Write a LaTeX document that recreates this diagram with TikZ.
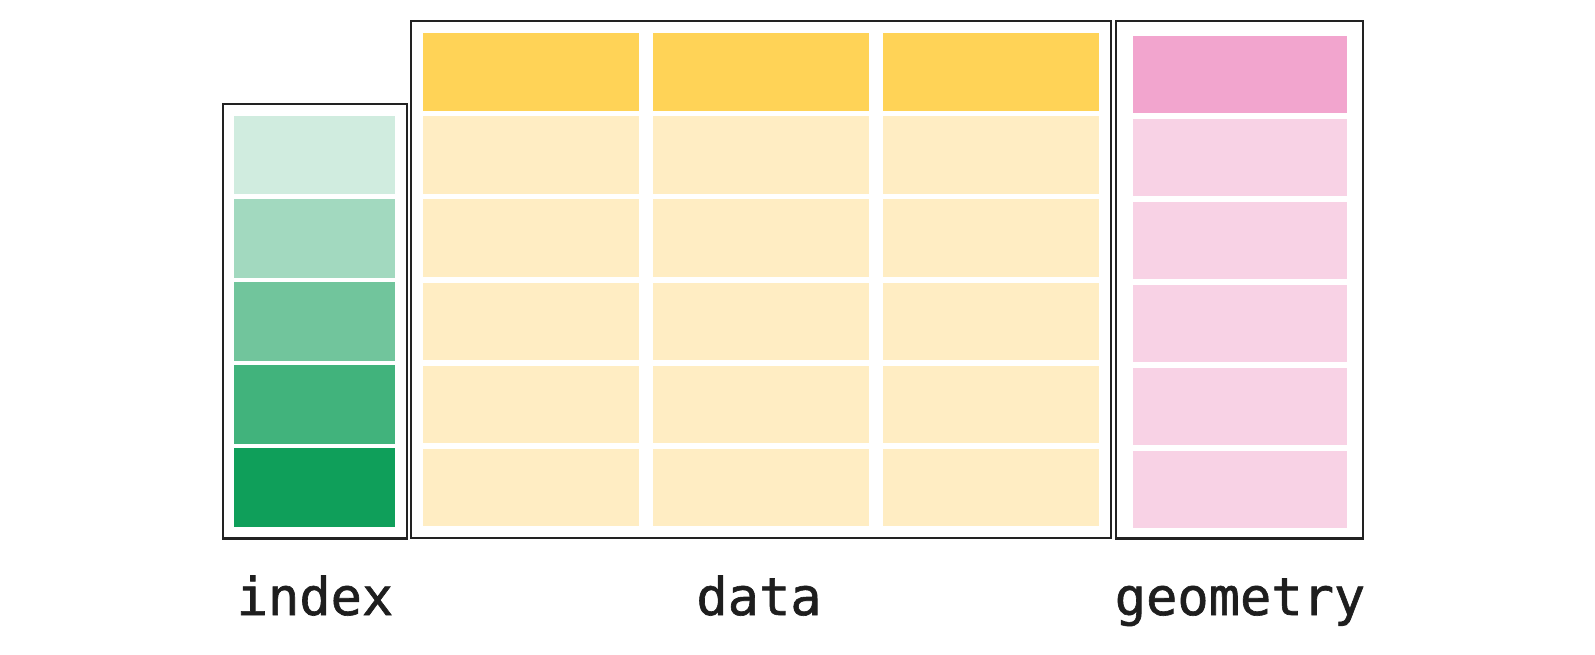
\documentclass[tikz,border=0pt]{standalone}
\usepackage{fontspec}
\newfontfamily\labelfont[BoldFont={DejaVu Sans Mono}, BoldFeatures={FakeBold=1.2}]{DejaVu Sans Mono}
\definecolor{boxline}{HTML}{222222}
\definecolor{txt}{HTML}{1E1E1E}
\definecolor{gA}{HTML}{D0ECDF}
\definecolor{gB}{HTML}{A2D9BF}
\definecolor{gC}{HTML}{71C59C}
\definecolor{gD}{HTML}{41B37C}
\definecolor{gE}{HTML}{0F9F5A}
\definecolor{yhead}{HTML}{FFD357}
\definecolor{ycell}{HTML}{FFEDC3}
\definecolor{phead}{HTML}{F2A5CE}
\definecolor{pcell}{HTML}{F8D2E5}
\tikzset{
  frame/.style={draw=boxline, line width=2.3pt, rectangle, inner sep=0pt, anchor=north west},
  cellbox/.style={rectangle, inner sep=0pt, anchor=north west, draw=none},
  lbl/.style={font=\labelfont\bfseries\fontsize{52pt}{60pt}\selectfont, text=txt, anchor=base, inner sep=0pt}
}
\begin{document}
\begin{tikzpicture}[x=1pt,y=-1pt]
\useasboundingbox (0,0) rectangle (1595,655);
% frames
\node[frame, minimum width=184.2pt, minimum height=434.3pt] (indexbox) at (221.5,103) {};
\node[frame, minimum width=700pt, minimum height=516.7pt] (databox) at (410,20) {};
\node[frame, minimum width=246.7pt, minimum height=517.3pt] (geombox) at (1115,20) {};
% index cells
\foreach \c [count=\k from 0] in {gA,gB,gC,gD,gE}{
  \node[cellbox, fill=\c, minimum width=161.7pt, minimum height=78.3pt] (i\k) at (233.3,{116+83*\k}) {};
}
% data cells
\foreach \x [count=\j] in {423,652.3,882.7}{
  \node[cellbox, fill=yhead, minimum width=216pt, minimum height=77.5pt] (dh\j) at (\x,33.3) {};
  \foreach \k in {1,...,5}{
    \node[cellbox, fill=ycell, minimum width=216pt, minimum height=77.5pt] (d\j\k) at (\x,{33.3+83*\k}) {};
  }
}
% geometry cells
\node[cellbox, fill=phead, minimum width=214.4pt, minimum height=77.7pt] (gh) at (1132.3,35.5) {};
\foreach \k in {1,...,5}{
  \node[cellbox, fill=pcell, minimum width=214.4pt, minimum height=77.7pt] (g\k) at (1132.3,{35.5+83*\k}) {};
}
% labels
\node[lbl] (indexlbl) at (315,615) {index};
\node[lbl] (datalbl) at (759,615) {data};
\node[lbl] (geomlbl) at (1240,615) {geometry};
\end{tikzpicture}
\end{document}
